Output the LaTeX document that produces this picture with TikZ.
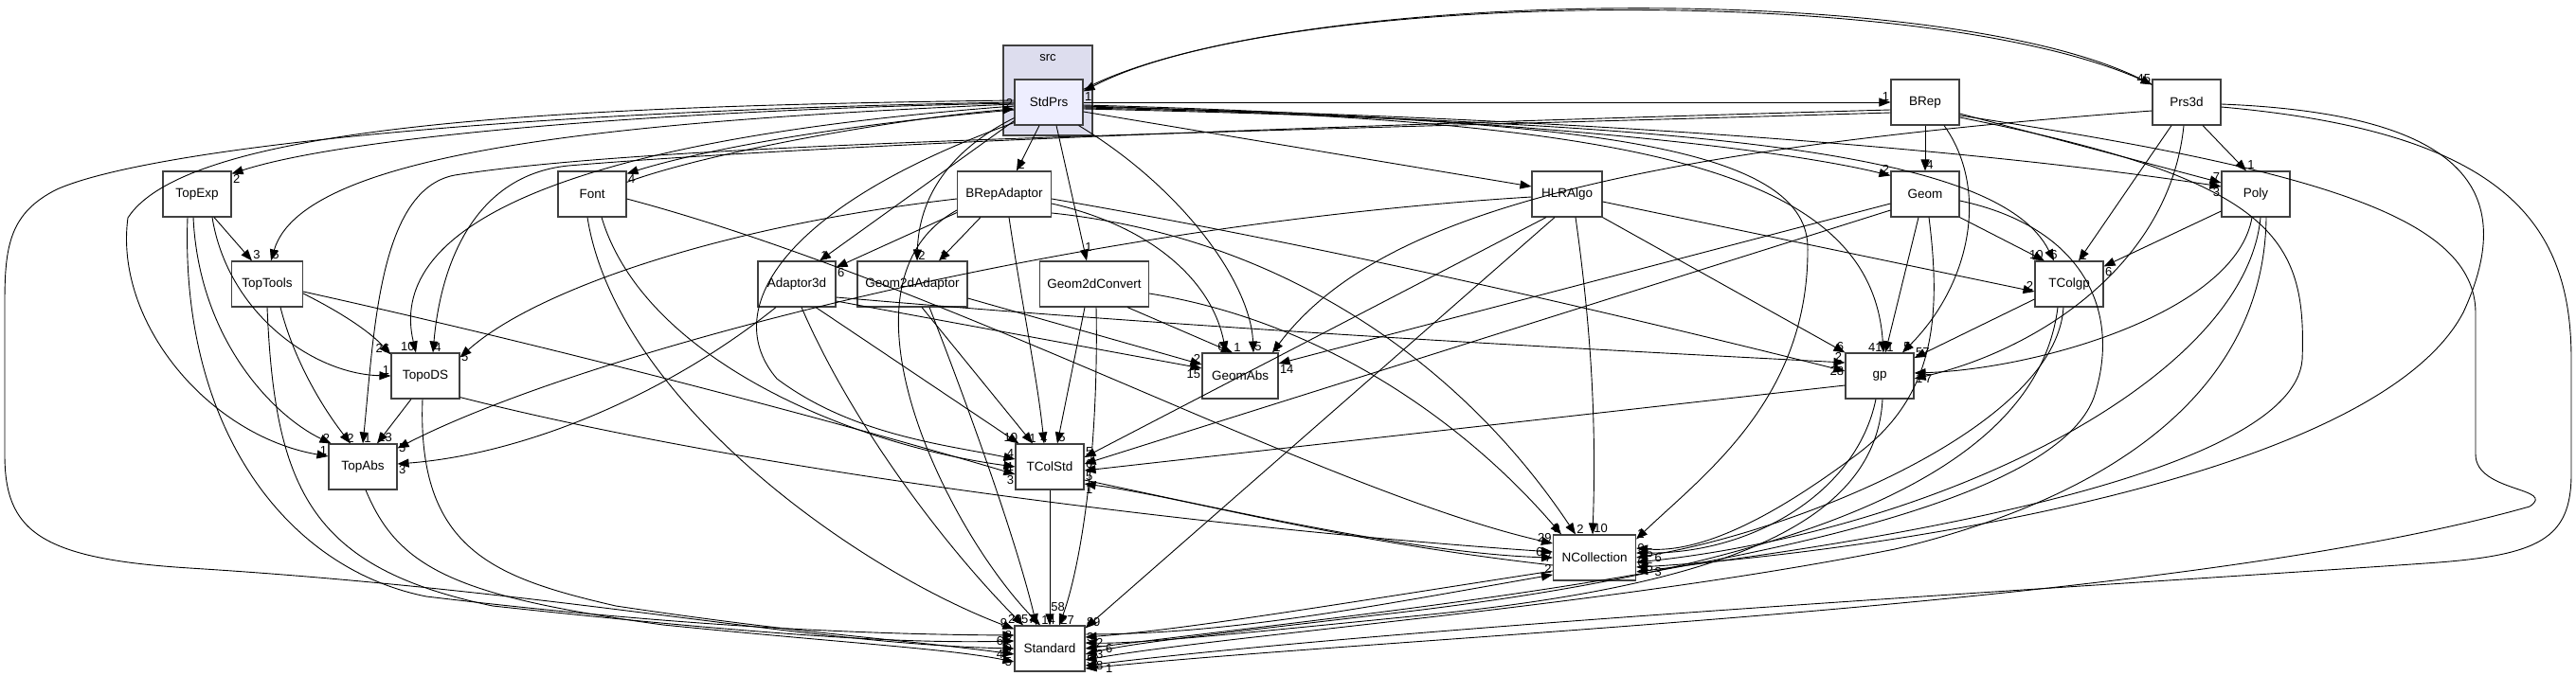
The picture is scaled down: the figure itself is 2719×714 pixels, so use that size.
\documentclass[tikz,border=0pt]{standalone}
\usepackage{fontspec}
\setmainfont{Liberation Sans}
\usetikzlibrary{arrows.meta}
\definecolor{clusterfill}{HTML}{DDDDEE}
\definecolor{mainfill}{HTML}{EEEEFF}
\definecolor{boxgray}{HTML}{404040}

\tikzset{
  dirbox/.style={draw=boxgray, line width=1.1pt, fill=white, minimum width=72pt,
                 minimum height=48pt, inner sep=0pt, font=\fontsize{13.5}{15}\selectfont},
  dep/.style={line width=0.9pt, -{Triangle[length=12pt,width=9pt]}},
  lbl/.style={font=\fontsize{13}{13}\selectfont, inner sep=1pt},
}

\begin{document}
\begin{tikzpicture}[x=1pt, y=-1pt]
  \useasboundingbox (0,0) rectangle (2719,714);

  % cluster
  \node[draw=boxgray, line width=1.1pt, fill=clusterfill, minimum width=94pt, minimum height=95pt] (srcbox) at (1106,95.5) {};
  \node[font=\fontsize{13}{13}\selectfont] (srclabel) at (1106,61) {src};

  % directories
  \node[dirbox, fill=mainfill] (StdPrs) at (1107,108) {StdPrs};
  \node[dirbox] (TopExp) at (208,205) {TopExp};
  \node[dirbox] (Font) at (625,205) {Font};
  \node[dirbox, minimum width=75pt] (TopTools) at (282,300) {TopTools};
  \node[dirbox, minimum width=99pt] (BRepAdaptor) at (1060,205) {BRepAdaptor};
  \node[dirbox, minimum width=82pt] (Adaptor3d) at (841,300) {Adaptor3d};
  \node[dirbox, minimum width=116pt] (Geom2dAdaptor) at (963,300) {Geom2dAdaptor};
  \node[dirbox, minimum width=115pt] (Geom2dConvert) at (1155,300) {Geom2dConvert};
  \node[dirbox] (BRep) at (2032,108) {BRep};
  \node[dirbox, minimum width=74pt] (HLRAlgo) at (1654,205) {HLRAlgo};
  \node[dirbox] (Geom) at (2032,205) {Geom};
  \node[dirbox] (Prs3d) at (2308,108) {Prs3d};
  \node[dirbox] (Poly) at (2381,205) {Poly};
  \node[dirbox] (TColgp) at (2184,300) {TColgp};
  \node[dirbox] (TopoDS) at (449,397) {TopoDS};
  \node[dirbox] (TopAbs) at (383,493) {TopAbs};
  \node[dirbox, minimum width=80pt] (GeomAbs) at (1309,397) {GeomAbs};
  \node[dirbox] (TColStd) at (1108,493) {TColStd};
  \node[dirbox, minimum width=74pt] (Standard) at (1108,685) {Standard};
  \node[dirbox] (gp) at (1984,397) {gp};
  \node[dirbox, minimum width=87pt] (NCollection) at (1683,589) {NCollection};

  % StdPrs
  \draw[dep] ([yshift=-11pt]StdPrs.north east) .. controls (1350,-14) and (2050,-22) .. ([yshift=-6pt]Prs3d.north west) node[lbl, at end, anchor=south east] {45};
  \draw[dep] ([yshift=-6pt]Prs3d.north west) .. controls (2050,-20) and (1350,-12) .. ([yshift=-13pt]StdPrs.north east) node[lbl, at end, anchor=north west] {1};
  \draw[dep] (StdPrs.east) -- (BRep.west) node[lbl, at end, anchor=south east] {1};
  \draw[dep] ([yshift=-1pt]StdPrs.west) .. controls (750,115) and (380,140) .. ([yshift=-3pt]TopExp.north east) node[lbl, at end, anchor=north west] {2};
  \draw[dep] ([yshift=-2pt]StdPrs.west) .. controls (650,128) and (320,160) .. ([xshift=4pt]TopTools.north) node[lbl, at end, anchor=south west] {5};
  \draw[dep] ([yshift=-8pt]StdPrs.west) .. controls (850,135) and (720,165) .. ([yshift=-3pt]Font.north east) node[lbl, at end, anchor=north west] {4};
  \draw[dep] ([yshift=-4pt]StdPrs.west) .. controls (560,150) and (410,250) .. ([xshift=-10pt]TopoDS.north) node[lbl, at end, anchor=south east] {10};
  \draw[dep] ([yshift=2pt]StdPrs.west) .. controls (600,112) and (200,130) .. (135,230) .. controls (120,340) and (220,460) .. ([yshift=11pt]TopAbs.west) node[lbl, at end, anchor=south east] {1};
  \draw[dep] (StdPrs.west) .. controls (500,118) and (150,160) .. (60,200) .. controls (10,225) and (5,260) .. (5,320) -- (5,480) .. controls (5,560) and (40,590) .. (200,600) .. controls (600,625) and (850,680) .. (Standard.west) node[lbl, at end, anchor=east, xshift=-1pt] {9};
  \draw[dep] ([xshift=-10pt]StdPrs.south) -- ([xshift=13pt]BRepAdaptor.north) node[lbl, at end, anchor=south west] {2};
  \draw[dep] ([yshift=5pt]StdPrs.south west) -- ([xshift=24pt]Adaptor3d.north) node[lbl, at end, anchor=south west] {1};
  \draw[dep] ([yshift=8pt]StdPrs.south west) .. controls (1000,160) and (970,210) .. ([xshift=5pt]Geom2dAdaptor.north) node[lbl, at end, anchor=south west] {2};
  \draw[dep] ([xshift=8pt]StdPrs.south) -- ([xshift=-8pt]Geom2dConvert.north) node[lbl, pos=0.9, anchor=west] {1};
  \draw[dep] ([yshift=-10pt]StdPrs.east) -- ([yshift=8pt]HLRAlgo.west);
  \draw[dep] ([yshift=-3pt]StdPrs.east) .. controls (1500,120) and (1850,150) .. ([yshift=-5pt]Geom.north west) node[lbl, at end, anchor=south east] {2};
  \draw[dep] ([yshift=-5pt]StdPrs.east) .. controls (1700,125) and (2100,160) .. ([yshift=8pt]Poly.west) node[lbl, at end, anchor=north east] {3};
  \draw[dep] ([yshift=-7pt]StdPrs.east) .. controls (1800,130) and (2110,160) .. ([xshift=-16pt]TColgp.north) node[lbl, at end, anchor=south] {6};
  \draw[dep] ([yshift=-4pt]StdPrs.east) .. controls (1700,128) and (1975,170) .. ([xshift=4pt]gp.north) node[lbl, at end, anchor=south east] {41};
  \draw[dep] ([yshift=-6pt]StdPrs.east) .. controls (1650,125) and (1905,150) .. (1908,260) .. controls (1910,420) and (1800,500) .. ([yshift=-5pt]NCollection.north east) node[lbl, at end, anchor=south west] {2};
  \draw[dep] ([xshift=-5pt]StdPrs.south east) .. controls (1250,200) and (1320,300) .. ([xshift=14pt]GeomAbs.north) node[lbl, at end, anchor=south west] {5};
  \draw[dep] ([yshift=3pt]StdPrs.south west) .. controls (820,220) and (760,330) .. (820,400) .. controls (900,460) and (1000,470) .. ([yshift=8pt]TColStd.west) node[lbl, at end, anchor=south east] {4};

  % BRepAdaptor
  \draw[dep] ([yshift=5pt]BRepAdaptor.south west) -- ([yshift=-7pt]Adaptor3d.north east) node[lbl, at end, anchor=north west] {6};
  \draw[dep] ([xshift=-25pt]BRepAdaptor.south) -- ([xshift=28pt]Geom2dAdaptor.north) node[lbl, at end, anchor=south west] {1};
  \draw[dep] ([yshift=-5pt]BRepAdaptor.west) .. controls (750,240) and (560,310) .. ([yshift=-5pt]TopoDS.north east) node[lbl, at end, anchor=west] {5};
  \draw[dep] ([xshift=5pt]BRepAdaptor.south) .. controls (1080,330) and (1095,400) .. ([xshift=-6pt]TColStd.north) node[lbl, at end, anchor=south] {4};
  \draw[dep] ([yshift=-10pt]BRepAdaptor.east) .. controls (1220,240) and (1280,300) .. ([xshift=-15pt]GeomAbs.north) node[lbl, at end, anchor=south east] {6};
  \draw[dep] ([yshift=-5pt]BRepAdaptor.east) .. controls (1400,260) and (1700,330) .. ([yshift=5pt]gp.west) node[lbl, at end, anchor=east] {28};
  \draw[dep] ([yshift=-20pt]BRepAdaptor.east) .. controls (1350,250) and (1540,380) .. ([xshift=-20pt]NCollection.north) node[lbl, at end, anchor=south west] {2};
  \draw[dep] ([yshift=-17pt]BRepAdaptor.west) .. controls (870,300) and (1000,560) .. ([xshift=-10pt]Standard.north) node[lbl, at end, anchor=south west] {14};

  % Adaptor3d
  \draw[dep] ([yshift=-18pt]Adaptor3d.east) -- ([yshift=8pt]GeomAbs.west) node[lbl, at end, anchor=north east] {15};
  \draw[dep] ([yshift=-14pt]Adaptor3d.east) .. controls (1300,350) and (1700,370) .. ([yshift=14pt]gp.west) node[lbl, at end, anchor=south east, xshift=-2pt] {2};
  \draw[dep] ([xshift=20pt]Adaptor3d.south) -- ([xshift=4pt]TColStd.north west) node[lbl, at end, anchor=south east] {10};
  \draw[dep] ([xshift=-22pt]Adaptor3d.south) .. controls (700,420) and (550,480) .. ([yshift=3pt]TopAbs.east) node[lbl, at end, anchor=north west] {3};
  \draw[dep] ([xshift=5pt]Adaptor3d.south) .. controls (900,450) and (1000,580) .. ([xshift=-28pt]Standard.north) node[lbl, at end, anchor=south east] {29};

  % Geom2dAdaptor, Geom2dConvert
  \draw[dep] ([yshift=-15pt]Geom2dAdaptor.east) -- ([yshift=12pt]GeomAbs.west) node[lbl, at end, anchor=south east] {2};
  \draw[dep] ([xshift=10pt]Geom2dAdaptor.south) -- ([xshift=-18pt]TColStd.north) node[lbl, at end, anchor=south] {1};
  \draw[dep] ([xshift=18pt]Geom2dAdaptor.south) .. controls (1030,450) and (1075,580) .. ([xshift=-14pt]Standard.north) node[lbl, at end, anchor=south east] {57};
  \draw[dep] ([xshift=35pt]Geom2dConvert.south) -- ([xshift=-8pt]GeomAbs.north) node[lbl, at end, anchor=south west] {1};
  \draw[dep] ([xshift=-10pt]Geom2dConvert.south) -- ([xshift=8pt]TColStd.north) node[lbl, at end, anchor=south west] {5};
  \draw[dep] ([xshift=2pt]Geom2dConvert.south) .. controls (1160,480) and (1140,600) .. ([xshift=10pt]Standard.north) node[lbl, at end, anchor=south west] {27};
  \draw[dep] ([yshift=-10pt]Geom2dConvert.east) .. controls (1400,340) and (1550,450) .. ([xshift=-35pt]NCollection.north) node[lbl, at end, anchor=south east] {9};

  % Font
  \draw[dep] ([yshift=-12pt]Font.north east) .. controls (750,160) and (950,125) .. ([yshift=-7pt]StdPrs.west) node[lbl, at end, anchor=south east] {2};
  \draw[dep] ([xshift=10pt]Font.south) .. controls (680,380) and (900,470) .. (TColStd.west) node[lbl, at end, anchor=east] {1};
  \draw[dep] ([xshift=-5pt]Font.south) .. controls (650,420) and (900,600) .. ([yshift=-4pt]Standard.north west) node[lbl, at end, anchor=south east, xshift=-6pt] {9};
  \draw[dep] ([yshift=-5pt]Font.east) .. controls (1000,300) and (1400,520) .. ([yshift=15pt]NCollection.west) node[lbl, at end, anchor=south east] {29};

  % TopExp, TopTools, TopoDS, TopAbs
  \draw[dep] ([xshift=18pt]TopExp.south) -- ([xshift=-16pt]TopTools.north) node[lbl, at end, anchor=south west] {3};
  \draw[dep] ([xshift=16pt]TopExp.south) .. controls (240,330) and (330,395) .. (TopoDS.west) node[lbl, at end, anchor=south east] {1};
  \draw[dep] ([xshift=-4pt]TopExp.south) .. controls (210,360) and (290,440) .. ([xshift=3pt]TopAbs.north west) node[lbl, at end, anchor=south east] {2};
  \draw[dep] ([xshift=-10pt]TopExp.south) .. controls (190,450) and (300,600) .. (450,630) .. controls (700,660) and (900,670) .. ([yshift=14pt]Standard.west) node[lbl, at end, anchor=east, xshift=-1pt] {8};
  \draw[dep] ([yshift=-10pt]TopTools.east) .. controls (360,330) and (390,350) .. ([yshift=-2pt]TopoDS.north west) node[lbl, at end, anchor=south east] {26};
  \draw[dep] ([xshift=14pt]TopTools.south) .. controls (310,380) and (340,430) .. ([xshift=-13pt]TopAbs.north) node[lbl, at end, anchor=south] {2};
  \draw[dep] ([yshift=-8pt]TopTools.east) .. controls (600,370) and (900,450) .. ([yshift=-8pt]TColStd.west) node[lbl, at end, anchor=north east] {3};
  \draw[dep] (TopTools.south) .. controls (290,520) and (330,600) .. (520,640) .. controls (800,670) and (950,680) .. ([yshift=8pt]Standard.west) node[lbl, at end, anchor=east, xshift=-10pt] {6};
  \draw[dep] ([xshift=-15pt]TopoDS.south) -- ([xshift=15pt]TopAbs.north) node[lbl, at end, anchor=south west] {13};
  \draw[dep] ([yshift=2pt]TopoDS.south east) .. controls (800,500) and (1300,560) .. ([yshift=6pt]NCollection.west) node[lbl, at end, anchor=east, xshift=-9pt] {6};
  \draw[dep] ([xshift=-3pt]TopoDS.south) .. controls (440,580) and (520,610) .. (650,640) .. controls (850,670) and (950,675) .. ([yshift=-6pt]Standard.west) node[lbl, at end, anchor=east, xshift=-10pt] {4};
  \draw[dep] ([xshift=3pt]TopAbs.south) .. controls (420,600) and (480,630) .. (700,660) .. controls (900,680) and (1000,685) .. ([yshift=-14pt]Standard.west) node[lbl, at end, anchor=east, xshift=-1pt] {5};

  % TColStd, NCollection, Standard
  \draw[dep] (TColStd.south) -- (Standard.north) node[lbl, at end, anchor=south west, yshift=13pt] {58};
  \draw[dep] ([yshift=-14pt]TColStd.east) .. controls (1300,540) and (1500,585) .. (NCollection.west) node[lbl, at end, anchor=east] {7};
  \draw[dep] ([yshift=-8pt]NCollection.west) .. controls (1400,570) and (1250,525) .. ([yshift=-18pt]TColStd.east) node[lbl, at end, anchor=north west] {1};
  \draw[dep] ([yshift=-14pt]NCollection.west) .. controls (1400,640) and (1250,665) .. ([yshift=12pt]Standard.east) node[lbl, at end, anchor=west] {3};
  \draw[dep] ([yshift=15pt]Standard.east) .. controls (1300,670) and (1450,640) .. ([yshift=-18pt]NCollection.west) node[lbl, at end, anchor=south east] {2};

  % HLRAlgo
  \draw[dep] ([yshift=-3pt]HLRAlgo.west) .. controls (1100,240) and (600,380) .. ([yshift=-5pt]TopAbs.north east) node[lbl, at end, anchor=west] {5};
  \draw[dep] ([yshift=-8pt]HLRAlgo.east) -- ([yshift=-8pt]TColgp.west) node[lbl, at end, anchor=south east] {2};
  \draw[dep] ([xshift=-22pt]HLRAlgo.south) -- ([yshift=10pt]TColStd.east) node[lbl, at end, anchor=south west] {5};
  \draw[dep] ([xshift=-13pt]HLRAlgo.south) -- ([yshift=-3pt]Standard.north east) node[lbl, at end, anchor=south west] {89};
  \draw[dep] ([xshift=9pt]HLRAlgo.south) .. controls (1680,350) and (1685,450) .. ([xshift=-2pt]NCollection.north) node[lbl, at end, anchor=south west] {10};
  \draw[dep] (HLRAlgo.south east) -- (gp.north west) node[lbl, at end, anchor=south east] {6};

  % Geom
  \draw[dep] ([yshift=-10pt]Geom.west) -- ([yshift=13pt]GeomAbs.east) node[lbl, at end, anchor=north west] {14};
  \draw[dep] ([yshift=-17pt]Geom.west) -- ([yshift=3pt]TColStd.east) node[lbl, at end, anchor=west] {6};
  \draw[dep] ([xshift=-7pt]Geom.south) -- ([xshift=6pt]gp.north) node[lbl, at end, anchor=south west] {1};
  \draw[dep] (Geom.south east) -- ([xshift=-26pt]TColgp.north) node[lbl, at end, anchor=south east] {10};
  \draw[dep] ([xshift=4pt]Geom.south) .. controls (2050,340) and (2040,420) .. (1960,480) .. controls (1880,540) and (1800,585) .. ([yshift=10pt]NCollection.east) node[lbl, at end, anchor=west] {9};
  \draw[dep] ([yshift=-7pt]Geom.east) .. controls (2200,240) and (2240,330) .. (2210,420) .. controls (2150,580) and (1500,640) .. (Standard.east) node[lbl, at end, anchor=west, xshift=20pt] {6};

  % gp, TColgp
  \draw[dep] ([yshift=-10pt]gp.west) -- ([yshift=-4pt]TColStd.east) node[lbl, at end, anchor=north west] {5};
  \draw[dep] ([xshift=-4pt]gp.south) .. controls (1960,520) and (1850,585) .. ([yshift=5pt]NCollection.east) node[lbl, at end, anchor=west, xshift=9pt] {5};
  \draw[dep] ([xshift=3pt]gp.south) .. controls (1980,560) and (1800,620) .. (1500,650) .. controls (1300,670) and (1200,680) .. ([yshift=6pt]Standard.east) node[lbl, at end, anchor=west, xshift=10pt] {2};
  \draw[dep] ([yshift=-16pt]TColgp.west) -- ([yshift=19pt]gp.east) node[lbl, at end, anchor=south west] {57};
  \draw[dep] ([xshift=-6pt]TColgp.south) .. controls (2170,450) and (1900,560) .. (NCollection.east) node[lbl, at end, anchor=west, xshift=18pt] {6};
  \draw[dep] ([xshift=-12pt]TColgp.south) .. controls (2150,500) and (1900,600) .. (1450,650) .. controls (1300,668) and (1200,678) .. ([yshift=-6pt]Standard.east) node[lbl, at end, anchor=west, xshift=10pt] {3};

  % Poly
  \draw[dep] ([yshift=-18pt]Poly.west) -- ([yshift=-6pt]TColgp.north east) node[lbl, at end, anchor=north west] {6};
  \draw[dep] ([xshift=-4pt]Poly.south) .. controls (2360,330) and (2150,390) .. ([yshift=3pt]gp.east) node[lbl, at end, anchor=north west] {1};
  \draw[dep] ([xshift=5pt]Poly.south) .. controls (2370,400) and (2050,560) .. ([yshift=-5pt]NCollection.east) node[lbl, at end, anchor=west] {0};
  \draw[dep] ([xshift=11pt]Poly.south) .. controls (2390,400) and (2250,520) .. (2000,580) .. controls (1700,640) and (1300,670) .. ([yshift=-12pt]Standard.east) node[lbl, at end, anchor=west] {5};

  % Prs3d
  \draw[dep] ([xshift=17pt]Prs3d.south) -- ([xshift=-10pt]Poly.north) node[lbl, at end, anchor=south west] {1};
  \draw[dep] ([xshift=-16pt]Prs3d.south) -- ([xshift=10pt]TColgp.north) node[lbl, at end, anchor=south west] {1};
  \draw[dep] ([xshift=-3pt]Prs3d.south) .. controls (2290,280) and (2150,370) .. ([yshift=-3pt]gp.east) node[lbl, at end, anchor=west, xshift=10pt] {7};
  \draw[dep] ([yshift=-9pt]Prs3d.west) .. controls (1700,160) and (1450,230) .. ([xshift=34pt]GeomAbs.north) node[lbl, at end, anchor=south west] {1};
  \draw[dep] ([yshift=-2pt]Prs3d.east) .. controls (2600,120) and (2660,200) .. (2600,330) .. controls (2500,520) and (1900,590) .. ([yshift=-10pt]NCollection.east) node[lbl, at end, anchor=west, xshift=9pt] {5};
  \draw[dep] ([yshift=-5pt]Prs3d.east) .. controls (2650,140) and (2714,240) .. (2714,380) -- (2714,500) .. controls (2714,570) and (2680,587) .. (2560,595) .. controls (2200,620) and (1500,660) .. ([yshift=-18pt]Standard.east) node[lbl, at end, anchor=west, xshift=10pt] {8};

  % BRep
  \draw[dep] (BRep.south) -- (Geom.north) node[lbl, at end, anchor=south west] {4};
  \draw[dep] ([yshift=-12pt]BRep.east) -- ([yshift=12pt]Poly.west) node[lbl, at end, anchor=south east] {7};
  \draw[dep] ([xshift=20pt]BRep.south) .. controls (2100,200) and (2080,300) .. ([xshift=24pt]gp.north) node[lbl, at end, anchor=south west] {5};
  \draw[dep] ([yshift=-8pt]BRep.west) .. controls (1500,130) and (900,150) .. (600,175) .. controls (500,185) and (465,280) .. ([xshift=8pt]TopoDS.north) node[lbl, at end, anchor=south west] {4};
  \draw[dep] ([yshift=-11pt]BRep.west) .. controls (1300,140) and (700,150) .. (480,185) .. controls (400,200) and (395,350) .. (TopAbs.north) node[lbl, at end, anchor=south west] {1};
  \draw[dep] ([yshift=-14pt]BRep.east) .. controls (2450,180) and (2612,230) .. (2613,330) -- (2613,480) .. controls (2613,520) and (2700,515) .. (2670,535) .. controls (2300,640) and (1500,670) .. ([yshift=-21pt]Standard.east) node[lbl, at end, anchor=west, xshift=20pt] {1};
  \draw[dep] ([yshift=-16pt]BRep.east) .. controls (2400,190) and (2435,250) .. (2430,380) .. controls (2420,500) and (2000,570) .. ([yshift=-15pt]NCollection.east) node[lbl, at end, anchor=west, xshift=18pt] {3};
\end{tikzpicture}
\end{document}
